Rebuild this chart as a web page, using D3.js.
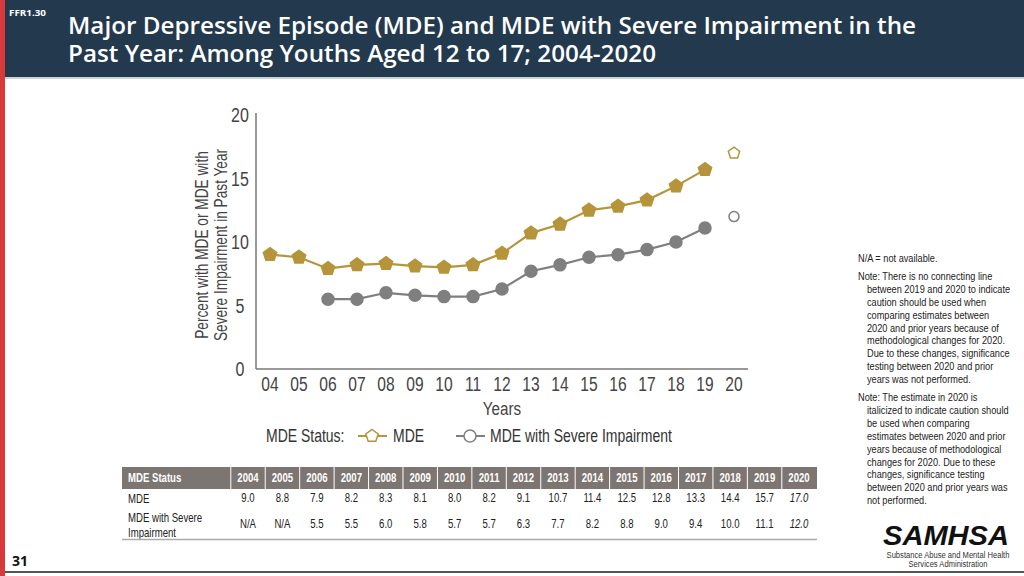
<!DOCTYPE html>
<html>
<head>
<meta charset="utf-8">
<script src="https://cdn.jsdelivr.net/npm/d3@7"></script>
<style>
  body { margin: 0; background: #fff; }
  svg { display: block; }
</style>
</head>
<body>
<svg id="chart" width="1024" height="576"></svg>
<script>
'use strict';

// data
const years = [2004, 2005, 2006, 2007, 2008, 2009, 2010, 2011, 2012,
  2013, 2014, 2015, 2016, 2017, 2018, 2019, 2020];
const mde = [9.0, 8.8, 7.9, 8.2, 8.3, 8.1, 8.0, 8.2, 9.1,
  10.7, 11.4, 12.5, 12.8, 13.3, 14.4, 15.7, 17.0];
const mdeSevere = [null, null, 5.5, 5.5, 6.0, 5.8, 5.7, 5.7, 6.3,
  7.7, 8.2, 8.8, 9.0, 9.4, 10.0, 11.1, 12.0];
const yTicks = [0, 5, 10, 15, 20];
const noteLines = [
  ['N/A = not available.', 0],
  ['Note: There is no connecting line', 0],
  ['between 2019 and 2020 to indicate', 1],
  ['caution should be used when', 1],
  ['comparing estimates between', 1],
  ['2020 and prior years because of', 1],
  ['methodological changes for 2020.', 1],
  ['Due to these changes, significance', 1],
  ['testing between 2020 and prior', 1],
  ['years was not performed.', 1],
  ['Note: The estimate in 2020 is', 0],
  ['italicized to indicate caution should', 1],
  ['be used when comparing', 1],
  ['estimates between 2020 and prior', 1],
  ['years because of methodological', 1],
  ['changes for 2020. Due to these', 1],
  ['changes, significance testing', 1],
  ['between 2020 and prior years was', 1],
  ['not performed.', 1]
];

const GOLD = '#b6943a';
const GREY = '#7f7f7f';
const SQUEEZE = 0.8; // fake an Arial Narrow look
const svg = d3.select('#chart');

// narrow text helper: Liberation Sans squeezed horizontally
function nt(parent, x, y, str, size, anchor) {
  return parent.append('text')
    .attr('transform', 'translate(' + x + ',' + y + ') scale(' + SQUEEZE + ',1)')
    .attr('font-family', 'Liberation Sans, Arial, sans-serif')
    .attr('font-size', size)
    .attr('text-anchor', anchor || 'start')
    .attr('fill', '#333')
    .text(str);
}

// slide frame
svg.append('rect').attr('x', 0).attr('y', 0).attr('width', 1024).attr('height', 77)
  .attr('fill', '#233a4e');
svg.append('rect').attr('x', 0).attr('y', 0).attr('width', 5).attr('height', 576)
  .attr('fill', '#d63a3a');
svg.append('line').attr('x1', 5).attr('x2', 1024).attr('y1', 78).attr('y2', 78)
  .attr('stroke', '#c9d3da').attr('stroke-width', 2);
svg.append('line').attr('x1', 5).attr('x2', 1024).attr('y1', 572).attr('y2', 572)
  .attr('stroke', '#555').attr('stroke-width', 2);

svg.append('text').attr('x', 9).attr('y', 16)
  .attr('font-family', 'Open Sans, sans-serif').attr('font-weight', 700)
  .attr('font-size', 9).attr('fill', '#fff')
  .attr('textLength', 37).attr('lengthAdjust', 'spacingAndGlyphs').text('FFR1.30');

svg.append('text').attr('x', 68).attr('y', 34)
  .attr('font-family', 'Open Sans, sans-serif').attr('font-weight', 600)
  .attr('font-size', 23).attr('fill', '#fff')
  .attr('textLength', 848).attr('lengthAdjust', 'spacingAndGlyphs')
  .text('Major Depressive Episode (MDE) and MDE with Severe Impairment in the');
svg.append('text').attr('x', 68).attr('y', 62)
  .attr('font-family', 'Open Sans, sans-serif').attr('font-weight', 600)
  .attr('font-size', 23).attr('fill', '#fff')
  .attr('textLength', 588).attr('lengthAdjust', 'spacingAndGlyphs')
  .text('Past Year: Among Youths Aged 12 to 17; 2004-2020');

svg.append('text').attr('x', 12).attr('y', 566)
  .attr('font-family', 'Open Sans, sans-serif').attr('font-weight', 700)
  .attr('font-size', 14).attr('fill', '#111').text('31');

// chart
const x = d3.scalePoint().domain(years).range([270, 734]);
const y = d3.scaleLinear().domain([0, 20]).range([369, 115]);

const g = svg.append('g');

g.append('line').attr('x1', 256).attr('x2', 256).attr('y1', 113).attr('y2', 369)
  .attr('stroke', '#777').attr('stroke-width', 1.5);
g.append('line').attr('x1', 256).attr('x2', 748).attr('y1', 369).attr('y2', 369)
  .attr('stroke', '#777').attr('stroke-width', 1.5);

yTicks.forEach(d => {
  nt(g, 240, y(d) + 7, d, 20, 'middle').attr('fill', '#444');
});
years.forEach(d => {
  nt(g, x(d), 391, String(d).slice(2), 19.5, 'middle').attr('fill', '#444');
});
nt(g, 502, 415, 'Years', 19, 'middle').attr('fill', '#444');

const yTitle = g.append('text')
  .attr('transform', 'translate(0,245) rotate(-90) scale(0.76,1)')
  .attr('font-family', 'Liberation Sans, Arial, sans-serif')
  .attr('text-anchor', 'middle').attr('font-size', 18).attr('fill', '#444');
yTitle.append('tspan').attr('x', 0).attr('y', 208).text('Percent with MDE or MDE with');
yTitle.append('tspan').attr('x', 0).attr('y', 227).text('Severe Impairment in Past Year');

function pent(r) {
  const pts = d3.range(5).map(i => {
    const a = -Math.PI / 2 + i * 2 * Math.PI / 5;
    return [r * Math.cos(a), r * Math.sin(a)];
  });
  return 'M' + pts.join('L') + 'Z';
}

const line = d3.line().defined(d => d.v !== null).x(d => x(d.year)).y(d => y(d.v));
const series = [
  { name: 'mde', values: mde, color: GOLD },
  { name: 'severe', values: mdeSevere, color: GREY }
];

series.forEach(s => {
  const pts = years.map((yr, i) => ({ year: yr, v: s.values[i] }));
  // no connecting line into 2020
  const solid = pts.filter(d => d.year < 2020);
  g.append('path').datum(solid).attr('d', line)
    .attr('fill', 'none').attr('stroke', s.color).attr('stroke-width', 2.2);
  const marks = g.selectAll('.m-' + s.name).data(pts.filter(d => d.v !== null)).enter();
  if (s.name === 'mde') {
    marks.append('path')
      .attr('transform', d => 'translate(' + x(d.year) + ',' + y(d.v) + ')')
      .attr('d', d => pent(d.year === 2020 ? 6 : 7))
      .attr('fill', d => d.year === 2020 ? '#fff' : s.color)
      .attr('stroke', s.color).attr('stroke-width', 1.5);
  } else {
    marks.append('circle')
      .attr('cx', d => x(d.year)).attr('cy', d => y(d.v))
      .attr('r', d => d.year === 2020 ? 5 : 6)
      .attr('fill', d => d.year === 2020 ? '#fff' : s.color)
      .attr('stroke', s.color).attr('stroke-width', 1.5);
  }
});

// legend
const lg = g.append('g').attr('transform', 'translate(0,436)');
nt(lg, 266, 6, 'MDE Status:', 17.5);
lg.append('line').attr('x1', 358).attr('x2', 387).attr('y1', 0).attr('y2', 0)
  .attr('stroke', GOLD).attr('stroke-width', 2);
lg.append('path').attr('transform', 'translate(372,0)').attr('d', pent(6.5))
  .attr('fill', '#fff').attr('stroke', GOLD).attr('stroke-width', 1.5);
nt(lg, 393, 6, 'MDE', 17.5);
lg.append('line').attr('x1', 456).attr('x2', 485).attr('y1', 0).attr('y2', 0)
  .attr('stroke', GREY).attr('stroke-width', 2);
lg.append('circle').attr('cx', 470).attr('cy', 0).attr('r', 6)
  .attr('fill', '#fff').attr('stroke', GREY).attr('stroke-width', 1.5);
nt(lg, 490, 6, 'MDE with Severe Impairment', 17.5);

// data table
const col = d3.scalePoint().domain(years).range([248, 799]);
const tb = g.append('g');
tb.append('rect').attr('x', 122).attr('y', 467).attr('width', 695).attr('height', 22)
  .attr('fill', '#7d7571');
years.forEach(yr => {
  tb.append('line').attr('x1', col(yr) - 17.2).attr('x2', col(yr) - 17.2)
    .attr('y1', 467).attr('y2', 489).attr('stroke', '#fff').attr('stroke-width', 1);
});
nt(tb, 128, 482, 'MDE Status', 12).attr('font-weight', 700).attr('fill', '#fff');
years.forEach(d => {
  nt(tb, col(d), 482, d, 12, 'middle').attr('font-weight', 700).attr('fill', '#fff');
});

nt(tb, 128, 503, 'MDE', 12).attr('fill', '#222');
nt(tb, 128, 522, 'MDE with Severe', 12).attr('fill', '#222');
nt(tb, 128, 537, 'Impairment', 12).attr('fill', '#222');

const fmt = d3.format('.1f');
years.forEach((d, i) => {
  nt(tb, col(d), 502, fmt(mde[i]), 12, 'middle').attr('fill', '#222')
    .attr('font-style', d === 2020 ? 'italic' : 'normal');
  nt(tb, col(d), 528, mdeSevere[i] === null ? 'N/A' : fmt(mdeSevere[i]), 12, 'middle')
    .attr('fill', '#222')
    .attr('font-style', d === 2020 ? 'italic' : 'normal');
});
tb.append('line').attr('x1', 122).attr('x2', 817).attr('y1', 539.5).attr('y2', 539.5)
  .attr('stroke', '#aaa').attr('stroke-width', 1.5);

// notes
let ny = 262;
noteLines.forEach((d, i) => {
  if (i > 0 && d[1] === 0) ny += 5;
  nt(g, d[1] ? 867 : 858, ny, d[0], 11.5).attr('fill', '#222');
  ny += 12.9;
});

// logo
svg.append('text').attr('x', 946).attr('y', 545).attr('text-anchor', 'middle')
  .attr('font-family', 'Liberation Sans, Arial, sans-serif').attr('font-weight', 700)
  .attr('font-style', 'italic').attr('font-size', 28).attr('fill', '#111')
  .attr('textLength', 126).attr('lengthAdjust', 'spacingAndGlyphs').text('SAMHSA');
nt(svg, 948, 558, 'Substance Abuse and Mental Health', 9.5, 'middle');
nt(svg, 948, 567, 'Services Administration', 9.5, 'middle');
</script>
</body>
</html>
